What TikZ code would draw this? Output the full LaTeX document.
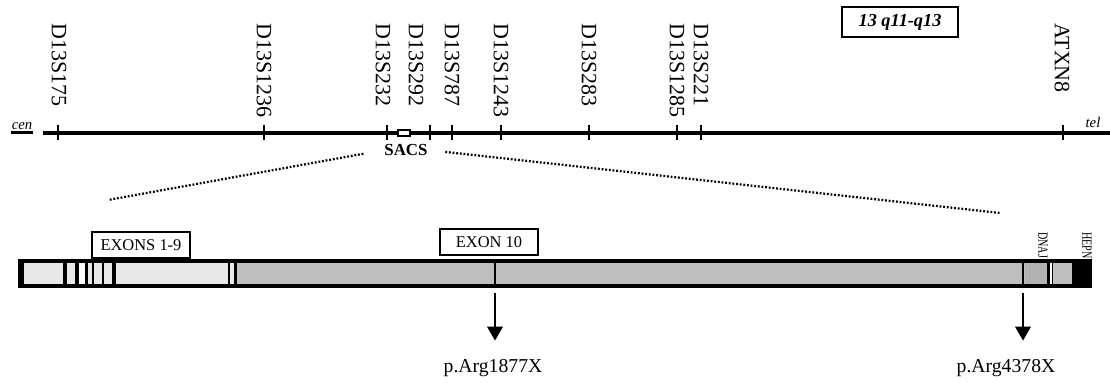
\documentclass[tikz,border=0pt]{standalone}
\usepackage{fontspec}
\usepackage{graphicx}
\setmainfont{Liberation Serif}
\usetikzlibrary{arrows.meta, positioning}

\begin{document}
\begin{tikzpicture}[
  x=0.025cm, y=-0.025cm,
  marker/.style={rotate=-90, anchor=west, inner sep=0pt, font=\fontsize{15.6}{18}\selectfont},
  domainlbl/.style={rotate=-90, anchor=west, inner sep=0pt, font=\fontsize{10}{12}\selectfont},
  tick/.style={line width=1.5pt},
  chrom/.style={line width=2.2pt},
  labelbox/.style={draw, line width=1.5pt, inner sep=0pt, minimum width=2.45cm,
                   minimum height=0.65cm, font=\fontsize{11.7}{14}\selectfont},
  zoomline/.style={line width=1.6pt, dash pattern=on 1.3pt off 1.3pt},
  mutarrow/.style={-{Triangle[length=10pt, width=11pt]}, line width=1.8pt},
  mutation/.style={anchor=base, inner sep=0pt, font=\fontsize{14}{16}\selectfont},
  tipend/.style={anchor=base, inner sep=0pt, font=\itshape\fontsize{10.5}{12}\selectfont}
]
  \useasboundingbox (0,0) rectangle (1110,385);

  % chromosome 13q
  \node[tipend] (cen) at (22,130) {cen};
  \draw[line width=2pt] ([yshift=-2pt]cen.base west) -- ([yshift=-2pt]cen.base east);
  \node[tipend] (tel) at (1093,128) {tel};
  \coordinate (chromL) at (43,133);
  \coordinate (chromR) at (1110,133);
  \draw[chrom] (chromL) -- (chromR);

  \foreach \lx/\tx/\name in {59/58/D13S175, 264/264/D13S1236, 383/387/D13S232,
      416/430/D13S292, 452/452/D13S787, 501/501/D13S1243, 589/589/D13S283,
      677/677/D13S1285, 701/701/D13S221, 1062/1063/ATXN8}{
    \draw[tick] (\tx,125) -- (\tx,140);
    \node[marker] (\name) at (\lx,23) {\name};
  }

  \node[draw, fill=white, line width=1.4pt, minimum width=0.28cm, minimum height=0.16cm,
        inner sep=0pt] (sacsbox) at (404,133) {};
  \node[inner sep=0pt, font=\bfseries\fontsize{12}{14}\selectfont] (sacs) at (406,150) {SACS};

  \node[labelbox, minimum width=2.9cm, minimum height=0.75cm,
        font=\bfseries\itshape\fontsize{13}{15}\selectfont] (band) at (900,22) {13 q11-q13};

  % zoom to the gene
  \coordinate (zoomL) at (108,200);
  \coordinate (zoomR) at (1000,213);
  \draw[zoomline, shorten <=15pt] (sacs.west) -- (zoomL);
  \draw[zoomline, shorten <=12.5pt] (sacs.east) -- (zoomR);

  % SACS gene
  \fill[gray!18] (20,261) rectangle (237,286);
  \fill[gray!50] (237,261) rectangle (1072,286);
  \fill[gray!60] (1025,261) rectangle (1047,286);
  \fill[white] (79,261) rectangle (85,286);
  \fill[white] (1048,261) rectangle (1052,286);
  \fill[black] (1072,261) rectangle (1090,286);
  \foreach \bx/\bw in {23/1.5, 65/4, 77/4, 86/3, 93/2.5, 103/2.5, 114/4, 229/2.5, 235/3,
      1023/2, 1048/3, 1052.5/1.5}{
    \fill (\bx-\bw/2,261) rectangle (\bx+\bw/2,286);
  }
  \draw[line width=1.2pt] (495,261) -- (495,286);
  \draw[line width=2.2pt] (20,261) rectangle (1090,286);

  \node[labelbox] (ex19) at (141,245) {EXONS 1-9};
  \node[labelbox] (ex10) at (489,242) {EXON 10};
  \node[domainlbl] (dnaj) at (1043,232) {\scalebox{0.72}[1]{DNAJ}};
  \node[domainlbl] (hepn) at (1087,232) {\scalebox{0.72}[1]{HEPN}};

  % nonsense mutations
  \coordinate (c1877) at (495,286);
  \coordinate (c4378) at (1023,286);
  \node[mutation] (m1877) at (493,372) {p.Arg1877X};
  \node[mutation] (m4378) at (1006,372) {p.Arg4378X};
  \draw[mutarrow, shorten <=5pt, shorten >=12.8pt] (c1877) -- (c1877 |- m1877.north);
  \draw[mutarrow, shorten <=5pt, shorten >=12.8pt] (c4378) -- (c4378 |- m4378.north);
\end{tikzpicture}
\end{document}
